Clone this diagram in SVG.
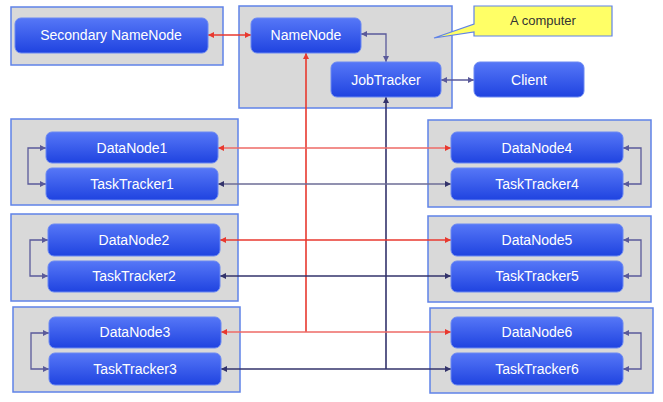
<svg xmlns="http://www.w3.org/2000/svg" width="663" height="402" viewBox="0 0 663 402">
<defs>
<linearGradient id="ng" x1="0" y1="0" x2="0" y2="1">
<stop offset="0" stop-color="#5677f7"/>
<stop offset="1" stop-color="#1f43e0"/>
</linearGradient>
<marker id="mr" viewBox="0 0 8 8" refX="8" refY="4" markerWidth="7" markerHeight="6" markerUnits="userSpaceOnUse" orient="auto-start-reverse"><path d="M0,0 L8,4 L0,8 z" fill="#e8392f"/></marker>
<marker id="mn" viewBox="0 0 8 8" refX="8" refY="4" markerWidth="7" markerHeight="6" markerUnits="userSpaceOnUse" orient="auto-start-reverse"><path d="M0,0 L8,4 L0,8 z" fill="#33336b"/></marker>
<marker id="mp" viewBox="0 0 8 8" refX="8" refY="4" markerWidth="7" markerHeight="6" markerUnits="userSpaceOnUse" orient="auto-start-reverse"><path d="M0,0 L8,4 L0,8 z" fill="#5a5a9a"/></marker>
</defs>
<style>
.box{fill:#d9d9d9;stroke:#5f82e8;stroke-width:1.5}
.node{fill:url(#ng);stroke:#6a88f2;stroke-width:1}
.lbl{font-family:"Liberation Sans",Arial,sans-serif;font-size:14px;fill:#ffffff;text-anchor:middle}
.red{fill:none;stroke:#e8392f;stroke-width:1.6}
.redl{fill:none;stroke:#ee6a66;stroke-width:1.5}
.navy{fill:none;stroke:#33336b;stroke-width:1.6}
.navyl{fill:none;stroke:#6d6d96;stroke-width:1.5}
.pur{fill:none;stroke:#5a5a9a;stroke-width:1.3}
</style>
<g id="machines">
<rect class="box" x="11" y="7" width="212" height="58"/>
<rect class="box" x="239" y="6" width="213" height="102"/>
<rect class="box" x="11" y="119" width="227" height="86"/>
<rect class="box" x="428" y="120" width="223" height="87"/>
<rect class="box" x="11" y="214" width="227" height="87"/>
<rect class="box" x="428" y="216" width="223" height="86"/>
<rect class="box" x="13" y="307" width="227" height="85"/>
<rect class="box" x="430" y="308" width="223" height="85"/>
</g>
<g id="callout">
<path d="M474,6 H612 V36 H474 V32 L434,38 L474,24 Z" fill="#ffff66" stroke="#5f82e8" stroke-width="1.2"/>
<text x="543" y="25" font-family="'Liberation Sans',Arial,sans-serif" font-size="13" fill="#333333" text-anchor="middle">A computer</text>
</g>
<g id="connectors">
<path class="red" d="M251,35 H208" marker-start="url(#mr)" marker-end="url(#mr)"/>
<path class="red" d="M306,53 V332" marker-start="url(#mr)"/>
<path class="navy" d="M386,97 V369" marker-start="url(#mn)"/>
<path class="pur" d="M361,34 H386 V62" marker-start="url(#mp)" marker-end="url(#mp)"/>
<path class="pur" d="M441,80 H474" marker-start="url(#mp)" marker-end="url(#mp)"/>
<path class="redl" d="M218,148 H451" marker-start="url(#mr)" marker-end="url(#mr)"/>
<path class="red" d="M220,240 H451" marker-start="url(#mr)" marker-end="url(#mr)"/>
<path class="redl" d="M221,332 H451" marker-start="url(#mr)" marker-end="url(#mr)"/>
<path class="navyl" d="M218,184 H451" marker-start="url(#mn)" marker-end="url(#mn)"/>
<path class="navy" d="M220,276 H451" marker-start="url(#mn)" marker-end="url(#mn)"/>
<path class="navy" stroke-width="2" d="M221,369 H451" marker-start="url(#mn)" marker-end="url(#mn)"/>
<path class="pur" d="M46,148 H28 V184 H46" marker-start="url(#mp)" marker-end="url(#mp)"/>
<path class="pur" d="M48,240 H30 V276 H48" marker-start="url(#mp)" marker-end="url(#mp)"/>
<path class="pur" d="M49,333 H31 V369 H49" marker-start="url(#mp)" marker-end="url(#mp)"/>
<path class="pur" d="M623,148 H641 V184 H623" marker-start="url(#mp)" marker-end="url(#mp)"/>
<path class="pur" d="M623,240 H641 V276 H623" marker-start="url(#mp)" marker-end="url(#mp)"/>
<path class="pur" d="M623,333 H641 V369 H623" marker-start="url(#mp)" marker-end="url(#mp)"/>
</g>
<g id="secondary-namenode"><rect class="node" x="15" y="18" width="193" height="35" rx="6"/><text class="lbl" x="111" y="40">Secondary NameNode</text></g>
<g id="namenode"><rect class="node" x="251" y="18" width="110" height="35" rx="6"/><text class="lbl" x="306" y="40">NameNode</text></g>
<g id="jobtracker"><rect class="node" x="331" y="62" width="110" height="35" rx="6"/><text class="lbl" x="386" y="85">JobTracker</text></g>
<g id="client"><rect class="node" x="474" y="62" width="110" height="35" rx="6"/><text class="lbl" x="529" y="85">Client</text></g>
<g id="datanode1"><rect class="node" x="46" y="132" width="172" height="31" rx="6"/><text class="lbl" x="132" y="153">DataNode1</text></g>
<g id="tasktracker1"><rect class="node" x="46" y="168" width="172" height="32" rx="6"/><text class="lbl" x="132" y="189">TaskTracker1</text></g>
<g id="datanode2"><rect class="node" x="48" y="224" width="172" height="32" rx="6"/><text class="lbl" x="134" y="245">DataNode2</text></g>
<g id="tasktracker2"><rect class="node" x="48" y="261" width="172" height="31" rx="6"/><text class="lbl" x="134" y="281">TaskTracker2</text></g>
<g id="datanode3"><rect class="node" x="49" y="317" width="172" height="31" rx="6"/><text class="lbl" x="135" y="337">DataNode3</text></g>
<g id="tasktracker3"><rect class="node" x="49" y="353" width="172" height="32" rx="6"/><text class="lbl" x="135" y="374">TaskTracker3</text></g>
<g id="datanode4"><rect class="node" x="451" y="132" width="172" height="31" rx="6"/><text class="lbl" x="537" y="153">DataNode4</text></g>
<g id="tasktracker4"><rect class="node" x="451" y="168" width="172" height="32" rx="6"/><text class="lbl" x="537" y="189">TaskTracker4</text></g>
<g id="datanode5"><rect class="node" x="451" y="224" width="172" height="32" rx="6"/><text class="lbl" x="537" y="245">DataNode5</text></g>
<g id="tasktracker5"><rect class="node" x="451" y="261" width="172" height="31" rx="6"/><text class="lbl" x="537" y="281">TaskTracker5</text></g>
<g id="datanode6"><rect class="node" x="451" y="317" width="172" height="31" rx="6"/><text class="lbl" x="537" y="337">DataNode6</text></g>
<g id="tasktracker6"><rect class="node" x="451" y="353" width="172" height="32" rx="6"/><text class="lbl" x="537" y="374">TaskTracker6</text></g>
</svg>
